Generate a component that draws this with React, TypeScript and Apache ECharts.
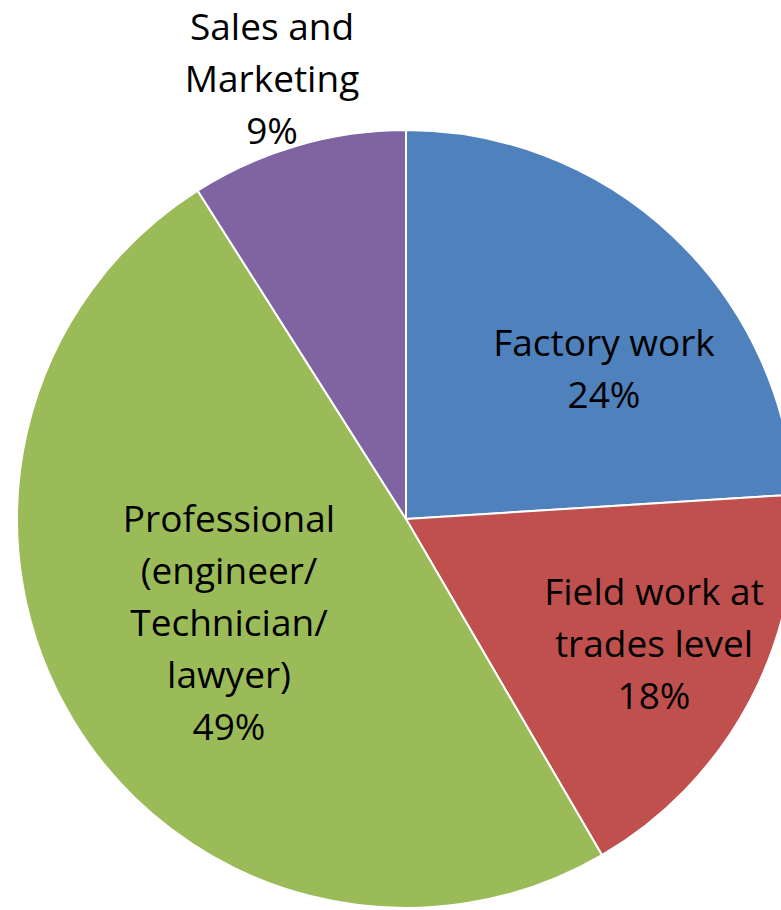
import React, { useEffect, useRef } from "react";
import * as echarts from "echarts";

const categories = [
  "Factory work",
  "Field work at\ntrades level",
  "Professional\n(engineer/\nTechnician/\nlawyer)",
  "Sales and\nMarketing",
];
const values = [24, 17.6, 49.4, 9];
const colors = ["#4F81BD", "#C0504D", "#9BBB59", "#8064A2"];
// label centre positions (x, y) in px within the chart
const labelCenters: [number, number][] = [
  [604, 367],
  [654, 642],
  [229, 621],
  [272, 77],
];

export default function App() {
  const ref = useRef<HTMLDivElement>(null);
  useEffect(() => {
    document.body.style.margin = "0";
    const chart = echarts.init(ref.current!, null, { renderer: "svg" });
    chart.setOption({
      animation: false,
      backgroundColor: "#ffffff",
      series: [
        {
          type: "pie",
          center: [406, 519],
          radius: [0, 389],
          startAngle: 90,
          clockwise: true,
          avoidLabelOverlap: false,
          data: categories.map((name, i) => ({
            name,
            value: values[i],
            itemStyle: { color: colors[i] },
          })),
          itemStyle: { borderColor: "#ffffff", borderWidth: 2 },
          label: {
            show: true,
            position: "inside",
            formatter: (p: any) => `${p.name}\n${Math.round(p.percent)}%`,
            color: "#000000",
            fontFamily: "Open Sans",
            fontSize: 37,
            lineHeight: 52,
            align: "center",
          },
          labelLine: { show: false },
          labelLayout: (params: any) => {
            const c = labelCenters[params.dataIndex];
            return { x: c[0], y: c[1], align: "center", verticalAlign: "middle" };
          },
          emphasis: { disabled: true },
        },
      ],
    });
    return () => chart.dispose();
  }, []);
  return <div ref={ref} style={{ width: 781, height: 910 }} />;
}
